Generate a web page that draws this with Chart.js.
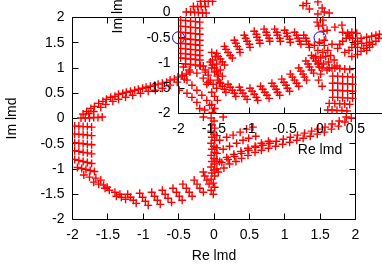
<!DOCTYPE html>
<html><head><meta charset="utf-8">
<script src="https://cdn.jsdelivr.net/npm/chart.js@4/dist/chart.umd.min.js"></script>
<style>
html,body{margin:0;padding:0;background:#fff;overflow:hidden;width:382px;height:267px;}
#wrap{position:relative;width:382px;height:267px;overflow:hidden;background:#fff;}
canvas{position:absolute;}
#mainC{left:0;top:0;}
#insetC{left:106px;top:-106px;}
</style></head>
<body><div id="wrap"><canvas id="mainC" width="382" height="267"></canvas><canvas id="insetC" width="382" height="267"></canvas></div>
<script>
// ---- tick values / labels ----
const xTicks = [-2,-1.5,-1,-0.5,0,0.5,1,1.5,2];
const yTicks = [-2,-1.5,-1,-0.5,0,0.5,1,1.5,2];
const xTitle = 'Re lmd';
const yTitle = 'Im lmd';

// ---- main plot: [Re, Im] ----
const mainUpperArc = [[-1.85,0.09],[-1.80,0.14],[-1.74,0.20],[-1.69,0.24],[-1.63,0.30],[-1.57,0.34],[-1.52,0.38],[-1.46,0.42],[-1.40,0.44],[-1.35,0.48],[-1.29,0.50],[-1.24,0.52],[-1.18,0.54],[-1.12,0.56],[-1.07,0.58],[-1.01,0.60],[-0.96,0.62],[-0.90,0.64],[-0.84,0.66],[-0.79,0.68],[-0.73,0.70],[-0.67,0.72],[-0.62,0.76],[-0.56,0.78],[-0.51,0.82],[-0.45,0.84],[-0.39,0.88],[-0.34,0.92],
 [-1.77,0.10],[-1.70,0.14],[-1.60,0.22],[-1.53,0.28],[-1.43,0.34],[-1.35,0.38],[-1.25,0.42],[-1.15,0.46],[-1.04,0.50],[-0.93,0.54],[-0.83,0.56],[-0.73,0.60],[-0.62,0.66],[-0.52,0.72],[-0.42,0.78]];
const mainLeftSide = [[-1.88,0.01],[-1.82,0.01],[-1.76,0.01],[-1.70,0.02],[-1.64,0.02],[-1.58,0.03],
 [-1.97,-0.15],[-1.91,-0.15],[-1.85,-0.16],[-1.79,-0.16],[-1.73,-0.17],
 [-1.97,-0.31],[-1.91,-0.31],[-1.85,-0.32],[-1.79,-0.33],[-1.73,-0.34],
 [-1.97,-0.48],[-1.91,-0.49],[-1.85,-0.50],[-1.79,-0.51],[-1.73,-0.52],
 [-1.97,-0.64],[-1.91,-0.65],[-1.85,-0.67],[-1.79,-0.68],[-1.73,-0.70],
 [-1.97,-0.81],[-1.91,-0.83],[-1.85,-0.85],[-1.79,-0.87],[-1.73,-0.89],
 [-1.93,-0.97],[-1.87,-0.99],[-1.81,-1.01],[-1.75,-1.03],[-1.69,-1.05]];
const mainLowerArc = [[-1.84,-1.12],[-1.76,-1.16],[-1.67,-1.18],[-1.60,-1.22],
 [-1.70,-1.26],[-1.63,-1.30],[-1.56,-1.32],[-1.51,-1.36],
 [-1.54,-1.38],[-1.48,-1.42],[-1.40,-1.46],[-1.33,-1.50],
 [-1.38,-1.54],[-1.31,-1.56],[-1.25,-1.60],
 [-1.22,-1.50],[-1.18,-1.56],[-1.14,-1.62],[-1.10,-1.68],
 [-1.05,-1.48],[-1.01,-1.56],[-0.97,-1.64],[-0.93,-1.72],
 [-0.88,-1.46],[-0.84,-1.54],[-0.80,-1.62],[-0.76,-1.70],
 [-0.73,-1.42],[-0.69,-1.50],[-0.65,-1.58],[-0.60,-1.66],
 [-0.58,-1.38],[-0.53,-1.46],[-0.49,-1.54],[-0.45,-1.62],
 [-0.44,-1.30],[-0.39,-1.38],[-0.35,-1.46],[-0.31,-1.54],
 [-0.28,-1.22],[-0.24,-1.30],[-0.20,-1.38],[-0.15,-1.46],
 [-0.15,-1.06],[-0.13,-1.14],[-0.10,-1.22],[-0.07,-1.30]];
const mainVertical = [[-0.04,0.01],[0.00,-0.05],[-0.03,-0.13],[0.01,-0.19],[-0.04,-0.25],[0.00,-0.31],[-0.03,-0.37],[0.01,-0.43],[-0.04,-0.49],[0.00,-0.55],[-0.03,-0.61],[0.01,-0.67],[-0.04,-0.73],[0.00,-0.79],[-0.03,-0.85],[0.01,-0.90],[-0.04,-0.96],[0.00,-1.02],[-0.03,-1.08],[0.01,-1.14],[-0.04,-1.20],[-0.01,-1.28],[0.01,-1.36],[-0.04,-1.42],[-0.01,-1.50],
 [0.04,-0.34],[0.04,-0.58],[0.04,-0.82],[0.04,-1.00],[-0.15,0.03],[0.13,0.03]];
const mainFan = [[0.08,-0.43],[0.18,-0.37],[0.27,-0.33],[0.37,-0.27],[0.46,-0.21],[0.55,-0.17],
 [0.04,-0.69],[0.13,-0.61],[0.22,-0.55],[0.32,-0.49],[0.41,-0.43],[0.49,-0.39],[0.59,-0.35],
 [0.08,-0.85],[0.18,-0.77],[0.28,-0.71],[0.38,-0.65],[0.48,-0.59],[0.58,-0.55],[0.67,-0.49],[0.77,-0.45]];
const mainBand = [[0.06,-1.06],[0.14,-0.98],[0.22,-0.90],[0.31,-0.85],[0.39,-0.79],[0.48,-0.73],[0.58,-0.67],[0.67,-0.63],[0.77,-0.59],[0.87,-0.55],[0.97,-0.51],[1.07,-0.47],[1.17,-0.43],[1.26,-0.39],[1.36,-0.35],[1.46,-0.31],[1.56,-0.27],[1.66,-0.21],[1.76,-0.15],[1.85,-0.07],[1.94,0.01],
 [0.11,-0.87],[0.20,-0.81],[0.29,-0.75],[0.39,-0.69],[0.49,-0.63],[0.59,-0.57],[0.69,-0.53],[0.79,-0.49],[0.88,-0.45],[0.98,-0.41],[1.08,-0.37],[1.18,-0.33],[1.28,-0.29],[1.38,-0.25],[1.47,-0.21],[1.57,-0.17],[1.67,-0.11],[1.77,-0.05],[1.87,0.03]];

// ---- inset plot: [Re, Im] ----
const insetLeftSide = [[-1.69,0.22],[-1.63,0.22],[-1.58,0.22],[-1.52,0.22],
 [-1.79,0.12],[-1.73,0.12],[-1.68,0.12],[-1.62,0.12],
 [-1.89,0.01],[-1.83,0.01],[-1.77,0.00],[-1.72,0.00],[-1.66,-0.01],[-1.61,-0.01],
 [-1.97,-0.15],[-1.90,-0.16],[-1.83,-0.17],[-1.76,-0.18],[-1.70,-0.19],
 [-1.97,-0.27],[-1.90,-0.28],[-1.83,-0.29],[-1.76,-0.30],[-1.70,-0.31],
 [-1.97,-0.39],[-1.90,-0.40],[-1.83,-0.41],[-1.76,-0.42],[-1.70,-0.43],
 [-1.97,-0.51],[-1.90,-0.52],[-1.83,-0.53],[-1.76,-0.54],[-1.70,-0.55],
 [-1.97,-0.61],[-1.90,-0.62],[-1.83,-0.63],[-1.76,-0.64],[-1.70,-0.65],
 [-1.97,-0.71],[-1.90,-0.72],[-1.83,-0.73],[-1.76,-0.74],[-1.70,-0.75],
 [-1.97,-0.81],[-1.90,-0.82],[-1.83,-0.83],[-1.76,-0.84],[-1.70,-0.85],
 [-1.97,-0.90],[-1.90,-0.91],[-1.83,-0.92],[-1.76,-0.93],[-1.70,-0.94],
 [-1.90,-1.02],[-1.83,-1.03],[-1.76,-1.04],[-1.70,-1.05],[-1.65,-1.06]];
const insetUpperArc = [[-1.55,-0.98],[-1.52,-1.04],[-1.49,-1.10],[-1.46,-1.16],[-1.44,-1.22],
 [-1.46,-0.81],[-1.44,-0.87],[-1.41,-0.92],[-1.38,-0.98],[-1.35,-1.04],
 [-1.35,-0.67],[-1.33,-0.73],[-1.30,-0.79],[-1.27,-0.85],[-1.24,-0.90],
 [-1.21,-0.55],[-1.19,-0.61],[-1.17,-0.67],[-1.14,-0.73],[-1.13,-0.79],
 [-1.07,-0.45],[-1.05,-0.51],[-1.03,-0.57],[-1.00,-0.63],[-0.99,-0.69],
 [-0.93,-0.37],[-0.90,-0.43],[-0.89,-0.49],[-0.86,-0.55],[-0.85,-0.61],
 [-0.79,-0.33],[-0.76,-0.39],[-0.75,-0.45],[-0.72,-0.51],[-0.71,-0.57],
 [-0.64,-0.33],[-0.61,-0.39],[-0.60,-0.45],[-0.57,-0.51],[-0.56,-0.57],
 [-0.50,-0.35],[-0.47,-0.41],[-0.46,-0.47],[-0.43,-0.53],[-0.42,-0.59],
 [-0.36,-0.39],[-0.33,-0.45],[-0.31,-0.51],[-0.29,-0.57],[-0.27,-0.63],
 [-0.23,-0.45],[-0.20,-0.51],[-0.19,-0.57],[-0.16,-0.63],[-0.15,-0.69]];
const insetLowerArc = [[-1.44,-1.34],[-1.41,-1.40],[-1.38,-1.46],[-1.35,-1.52],[-1.33,-1.58],
 [-1.30,-1.42],[-1.27,-1.48],[-1.24,-1.54],[-1.21,-1.60],[-1.19,-1.66],
 [-1.14,-1.48],[-1.12,-1.54],[-1.09,-1.60],[-1.06,-1.66],[-1.03,-1.72],
 [-0.99,-1.50],[-0.96,-1.56],[-0.93,-1.62],[-0.90,-1.68],[-0.88,-1.74],
 [-0.84,-1.46],[-0.81,-1.52],[-0.78,-1.58],[-0.75,-1.64],[-0.72,-1.70],
 [-0.68,-1.40],[-0.65,-1.46],[-0.62,-1.52],[-0.60,-1.58],[-0.57,-1.64],
 [-0.54,-1.32],[-0.51,-1.38],[-0.48,-1.44],[-0.46,-1.50],[-0.43,-1.56],
 [-0.42,-1.22],[-0.39,-1.28],[-0.36,-1.34],[-0.33,-1.40],[-0.30,-1.46],
 [-0.30,-1.10],[-0.27,-1.16],[-0.24,-1.22],[-0.22,-1.28],[-0.19,-1.34],
 [-0.20,-0.96],[-0.17,-1.02],[-0.15,-1.08],[-0.12,-1.14],[-0.09,-1.20],
 [-0.12,-0.85],[-0.09,-0.90],[-0.06,-0.96],[-0.03,-1.02],[-0.01,-1.08]];
const insetCrossLeft = [[-1.95,-1.24],[-1.88,-1.34],[-1.81,-1.44],[-1.74,-1.54],[-1.67,-1.64],[-1.60,-1.74],[-1.56,-1.84],
 [-1.99,-1.54],[-1.88,-1.60],[-1.81,-1.68],[-1.74,-1.78],[-1.70,-1.90],[-1.63,-1.93],
 [-1.93,-1.08],[-1.85,-1.14],[-1.74,-1.20],[-1.65,-1.30],[-1.58,-1.38],[-1.69,-1.06],[-1.62,-1.14],
 [-1.53,-0.79],[-1.48,-0.87],[-1.52,-0.94],[-1.46,-1.02],[-1.53,-1.10],[-1.49,-1.18],[-1.45,-1.26],[-1.55,-1.34],[-1.51,-1.42],[-1.46,-1.50],[-1.53,-1.58],[-1.49,-1.66],[-1.45,-1.74],[-1.53,-1.82],[-1.49,-1.90],[-1.52,-1.98],
 [-1.62,-1.18],[-1.58,-1.24],[-1.41,-1.14],[-1.38,-1.26],[-1.60,-1.42],[-1.42,-1.38]];
const insetCrossRight = [[-0.03,0.21],[0.03,0.09],[-0.03,-0.03],[0.04,-0.15],[-0.02,-0.27],[0.05,-0.37],[-0.04,-0.19],
 [-0.24,0.14],[-0.19,0.18],[-0.15,0.07],[0.06,0.01],[0.13,-0.01],[0.04,-0.25],[0.10,-0.35],[0.21,-0.29],[0.31,-0.25],[0.32,-0.39],[0.39,-0.41],[0.42,-0.49],[0.46,-0.51],[0.52,-0.41],[0.53,-0.69],[0.59,-0.61],[0.66,-0.49],
 [-0.08,-0.65],[-0.01,-0.59],[0.06,-0.65],[-0.03,-0.75],[0.04,-0.79],[0.11,-0.75],[-0.06,-0.87],[0.01,-0.90],[0.08,-0.87],[0.15,-0.85],[-0.02,-1.00],[0.05,-1.02],[0.12,-0.98],[0.20,-0.94],[0.03,-1.10],[0.10,-1.14],[0.17,-1.10],[0.24,-1.06],
 [0.06,-0.55],[0.17,-0.63],[0.25,-0.71],[0.35,-0.79],[0.45,-0.87],
 [0.01,-1.22],[-0.02,-1.34],[0.03,-1.46]];
const insetRightSide = [[0.13,-1.10],[0.21,-1.10],[0.28,-1.11],[0.35,-1.12],[0.42,-1.13],
 [0.18,-1.26],[0.25,-1.26],[0.32,-1.27],[0.39,-1.27],[0.46,-1.28],
 [0.18,-1.40],[0.25,-1.40],[0.32,-1.41],[0.39,-1.41],[0.46,-1.42],
 [0.18,-1.54],[0.25,-1.54],[0.32,-1.55],[0.39,-1.55],[0.46,-1.56],
 [0.18,-1.68],[0.25,-1.68],[0.32,-1.69],[0.39,-1.69],[0.46,-1.70],
 [0.13,-1.80],[0.21,-1.80],[0.28,-1.81],[0.35,-1.81],[0.42,-1.82],
 [0.11,-1.93],[0.17,-1.93],[0.24,-1.94],[0.31,-1.94],[0.38,-1.95]];
const insetOuter = [[0.28,-0.63],[0.32,-0.57],[0.37,-0.51],[0.41,-0.45],[0.45,-0.39],
 [0.41,-0.75],[0.45,-0.69],[0.49,-0.63],[0.53,-0.57],[0.58,-0.51],
 [0.53,-0.83],[0.58,-0.77],[0.62,-0.71],[0.66,-0.65],[0.70,-0.59],
 [0.66,-0.75],[0.70,-0.69],[0.74,-0.63],[0.79,-0.57],[0.83,-0.51],
 [0.73,-0.47],[0.79,-0.45],[0.84,-0.43]];
const insetMarks = [[-2,-0.5],[0,-0.5]];

// ---- helpers ----
const toPts = arr => arr.map(p => ({x: p[0], y: p[1]}));
const FONT = {family: '"Liberation Sans", Arial, sans-serif', size: 14};
const TL = 6;

// frame + inward ticks; 'minY' limits how high (in canvas px) the frame may go
function makeFrame(minY) {
  return {
    id: 'frame',
    beforeDatasetsDraw(chart) {
      const {ctx, chartArea: a, scales: {x, y}} = chart;
      const h = v => Math.round(v - 0.5) + 0.5;
      const L = h(a.left), R = h(a.right), B = h(a.bottom);
      const T = Math.max(h(a.top), minY);
      ctx.save();
      ctx.strokeStyle = '#000'; ctx.lineWidth = 1;
      ctx.beginPath();
      ctx.moveTo(L, T); ctx.lineTo(L, B); ctx.lineTo(R, B); ctx.lineTo(R, T);
      if (T === h(a.top)) { ctx.lineTo(L, T); }
      for (const v of xTicks) {
        const px = h(x.getPixelForValue(v));
        ctx.moveTo(px, B); ctx.lineTo(px, B - TL);
        if (T === h(a.top)) { ctx.moveTo(px, T); ctx.lineTo(px, T + TL); }
      }
      for (const v of yTicks) {
        const py = h(y.getPixelForValue(v));
        if (py < T) continue;
        ctx.moveTo(L, py); ctx.lineTo(L + TL, py);
        ctx.moveTo(R, py); ctx.lineTo(R - TL, py);
      }
      ctx.stroke();
      ctx.restore();
    }
  };
}

function makeOptions() {
  return {
    responsive: false, animation: false, devicePixelRatio: 1,
    events: [],
    layout: {padding: {left: 0, top: 17.5, right: 26.5, bottom: 0}},
    plugins: {legend: {display: false}, tooltip: {enabled: false}},
    scales: {
      x: {
        type: 'linear', min: -2, max: 2,
        afterBuildTicks: s => { s.ticks = xTicks.map(v => ({value: v})); },
        afterFit: s => { s.height = 47.5; },
        grid: {display: false, drawTicks: false}, border: {display: false},
        ticks: {font: FONT, color: '#000', padding: 7, maxRotation: 0, autoSkip: false, callback: v => String(v)},
        title: {display: true, text: xTitle, font: FONT, color: '#000', padding: {top: 0, bottom: 2.5}}
      },
      y: {
        type: 'linear', min: -2, max: 2,
        afterBuildTicks: s => { s.ticks = yTicks.map(v => ({value: v})); },
        afterFit: s => { s.width = 72.5; },
        grid: {display: false, drawTicks: false}, border: {display: false},
        ticks: {font: FONT, color: '#000', padding: 8, autoSkip: false, callback: v => String(v)},
        title: {display: true, text: yTitle, font: FONT, color: '#000', padding: {top: 4, bottom: 0}}
      }
    }
  };
}

const redCross = {pointStyle: 'cross', pointRadius: 4, borderColor: 'rgb(255,0,0)', backgroundColor: 'rgb(255,0,0)', borderWidth: 1.4, showLine: false};

new Chart(document.getElementById('mainC'), {
  type: 'scatter',
  data: {datasets: [
    Object.assign({label: 'main', data: toPts([].concat(mainUpperArc, mainLeftSide, mainLowerArc, mainVertical, mainFan, mainBand))}, redCross)
  ]},
  options: makeOptions(),
  plugins: [makeFrame(-1e9)]
});

// inset canvas is offset by 106px up; its frame starts at the main plot's top edge
new Chart(document.getElementById('insetC'), {
  type: 'scatter',
  data: {datasets: [
    Object.assign({label: 'inset', data: toPts([].concat(insetLeftSide, insetUpperArc, insetLowerArc, insetCrossLeft, insetCrossRight, insetRightSide, insetOuter))}, redCross),
    {label: 'marks', data: toPts(insetMarks), pointStyle: 'circle', pointRadius: 6, borderColor: 'rgb(0,0,255)', backgroundColor: 'rgba(0,0,0,0)', borderWidth: 1, showLine: false, clip: false}
  ]},
  options: makeOptions(),
  plugins: [makeFrame(123.5)]
});
</script>
</body></html>
